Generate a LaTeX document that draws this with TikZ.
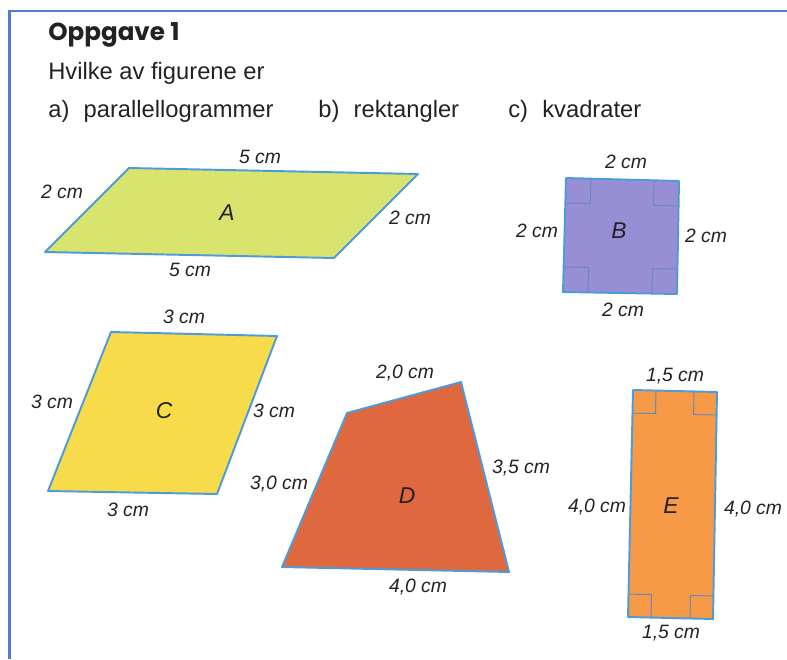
\documentclass[tikz,border=0pt]{standalone}
\usepackage{fontspec}
\setmainfont{Liberation Sans}
\newfontfamily\titlefont{Poppins}
\usetikzlibrary{calc}
\definecolor{kant}{HTML}{4C9BDB}
\definecolor{vinkelc}{HTML}{6A8CB4}
\definecolor{rammec}{HTML}{4F7FD0}
\definecolor{tekst}{HTML}{222222}
\definecolor{fillA}{HTML}{D8E46E}
\definecolor{fillB}{HTML}{988ED6}
\definecolor{fillC}{HTML}{F8DB4A}
\definecolor{fillD}{HTML}{E0683F}
\definecolor{fillE}{HTML}{F79A48}

\begin{document}
\begin{tikzpicture}[
  x=0.02cm, y=-0.02cm,
  figur/.style={draw=kant, line width=1.1pt, line join=round},
  vinkel/.style={draw=vinkelc, line width=0.6pt},
  maal/.style={font=\itshape\fontsize{11}{13}\selectfont, text=tekst, inner sep=1pt},
  bokstav/.style={font=\itshape\fontsize{13}{15}\selectfont, text=tekst},
  ramme/.style={draw=rammec, line width=1.2pt},
  tittel/.style={anchor=base west, inner sep=0pt, font=\titlefont\bfseries\fontsize{14}{16}\selectfont, text=tekst},
  brod/.style={anchor=base west, inner sep=0pt, font=\fontsize{13.5}{15}\selectfont, text=tekst},
]
\useasboundingbox (0,0) rectangle (787,659);
% --- frame ---
\draw[ramme] (787,11) -- (9.5,11) -- (9.5,659);
% --- text ---
\node[tittel] (tittel) at (48,40) {Oppgave 1};
\node[brod] (spm) at (48,79) {Hvilke av figurene er};
\node[brod] (da) at (48,117) {a)\hspace{0.6em}parallellogrammer};
\node[brod] (db) at (318,117) {b)\hspace{0.6em}rektangler};
\node[brod] (dc) at (508,117) {c)\hspace{0.6em}kvadrater};
% --- figure A ---
\coordinate (a1) at (129,168); \coordinate (a2) at (418,174);
\coordinate (a3) at (334,258); \coordinate (a4) at (45,252);
\draw[figur, fill=fillA] (a1) -- (a2) -- (a3) -- (a4) -- cycle;
\node[bokstav] (A) at (227,213) {A};
\node[maal] (aTop) at (260,157) {5 cm};
\node[maal] (aV) at (62,192) {2 cm};
\node[maal] (aH) at (410,218) {2 cm};
\node[maal] (aBunn) at (190,270) {5 cm};
% --- figure B ---
\coordinate (b1) at (566,178); \coordinate (b2) at (679,181);
\coordinate (b3) at (677,294); \coordinate (b4) at (563,292);
\draw[figur, fill=fillB] (b1) -- (b2) -- (b3) -- (b4) -- cycle;
\foreach \p/\q/\r in {b1/b2/b4, b2/b3/b1, b3/b4/b2, b4/b1/b3}
  \draw[vinkel] ($(\p)!0.5cm!(\q)$) -- ($(\p)!0.5cm!(\q) + (\p)!0.5cm!(\r) - (\p)$) -- ($(\p)!0.5cm!(\r)$);
\node[bokstav] (B) at (619,231) {B};
\node[maal] (bTop) at (626,162) {2 cm};
\node[maal] (bV) at (537,231) {2 cm};
\node[maal] (bH) at (706,236) {2 cm};
\node[maal] (bBunn) at (623,310) {2 cm};
% --- figure C ---
\coordinate (c1) at (111,332); \coordinate (c2) at (277,336);
\coordinate (c3) at (217,494); \coordinate (c4) at (48,491);
\draw[figur, fill=fillC] (c1) -- (c2) -- (c3) -- (c4) -- cycle;
\node[bokstav] (C) at (164,411) {C};
\node[maal] (cTop) at (184,317) {3 cm};
\node[maal] (cV) at (52,402) {3 cm};
\node[maal] (cH) at (274,411) {3 cm};
\node[maal] (cBunn) at (128,510) {3 cm};
% --- figure D ---
\coordinate (d1) at (347,413); \coordinate (d2) at (461,382);
\coordinate (d3) at (509,572); \coordinate (d4) at (282,567);
\draw[figur, fill=fillD] (d1) -- (d2) -- (d3) -- (d4) -- cycle;
\node[bokstav] (D) at (407,496) {D};
\node[maal] (dTop) at (405,373) {2,0 cm};
\node[maal] (dV) at (279,484) {3,0 cm};
\node[maal] (dH) at (521,468) {3,5 cm};
\node[maal] (dBunn) at (418,587) {4,0 cm};
% --- figure E ---
\coordinate (e1) at (633,390); \coordinate (e2) at (717,392);
\coordinate (e3) at (713,619); \coordinate (e4) at (628,617);
\draw[figur, fill=fillE] (e1) -- (e2) -- (e3) -- (e4) -- cycle;
\foreach \p/\q/\r in {e1/e2/e4, e2/e3/e1, e3/e4/e2, e4/e1/e3}
  \draw[vinkel] ($(\p)!0.46cm!(\q)$) -- ($(\p)!0.46cm!(\q) + (\p)!0.46cm!(\r) - (\p)$) -- ($(\p)!0.46cm!(\r)$);
\node[bokstav] (E) at (671,506) {E};
\node[maal] (eTop) at (675,376) {1,5 cm};
\node[maal] (eV) at (597,507) {4,0 cm};
\node[maal] (eH) at (753,509) {4,0 cm};
\node[maal] (eBunn) at (671,633) {1,5 cm};
\end{tikzpicture}
\end{document}
